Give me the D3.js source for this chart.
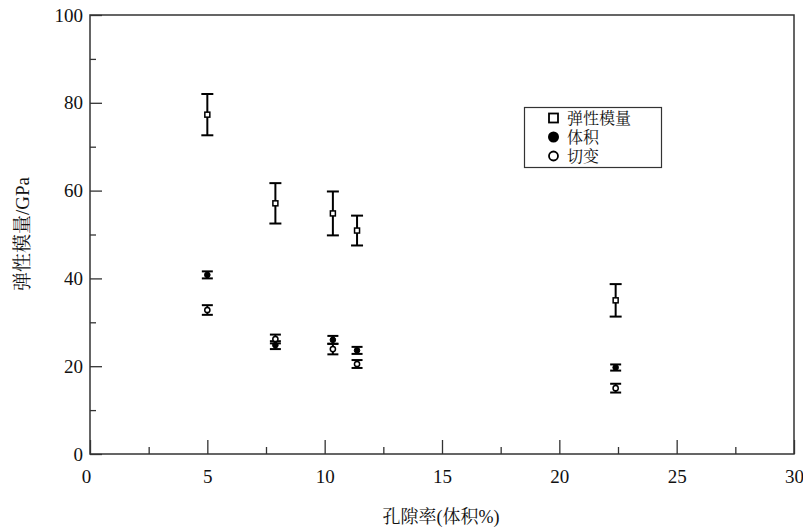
<!DOCTYPE html>
<html><head><meta charset="utf-8">
<script src="https://cdn.jsdelivr.net/npm/d3@7"></script>
<style>body{margin:0;background:#fff;} svg{display:block;}
.serif{font-family:"Liberation Serif","Times New Roman","DejaVu Serif",serif;}
.cjk{font-family:"Liberation Serif","Times New Roman","Noto Serif CJK SC","Noto Sans CJK SC",serif;}
</style>
</head><body>
<script>
const porosity = [5.0, 7.9, 10.35, 11.38, 22.4];
const modulus = [77.3, 57.1, 54.8, 50.9, 35.0];
const modulusErr = [4.7, 4.6, 5.0, 3.4, 3.7];
const bulk = [40.8, 24.8, 26.0, 23.6, 19.7];
const bulkErr = [0.8, 0.9, 0.9, 0.8, 0.7];
const shear = [32.8, 26.2, 23.9, 20.5, 15.0];
const shearErr = [1.1, 1.0, 1.2, 0.9, 1.0];
const xTicks = [0, 5, 10, 15, 20, 25, 30];
const yTicks = [0, 20, 40, 60, 80, 100];
const legendLabels = ["弹性模量", "体积", "切变"];

const W = 803, H = 528;
const m = {l: 90, r: 9, t: 15, b: 74};
const svg = d3.select("body").append("svg").attr("width", W).attr("height", H);
const x = d3.scaleLinear().domain([0, 30]).range([m.l, W - m.r]);
const y = d3.scaleLinear().domain([0, 100]).range([H - m.b, m.t]);
const axisColor = "#333";

// frame
svg.append("rect").attr("x", x(0)).attr("y", y(100)).attr("width", x(30) - x(0)).attr("height", y(0) - y(100))
  .attr("fill", "none").attr("stroke", axisColor).attr("stroke-width", 1.5);

// x axis
const xa = svg.append("g").attr("transform", `translate(0,${y(0)})`)
  .call(d3.axisBottom(x).tickValues(xTicks).tickSize(-14).tickPadding(22).tickFormat(d3.format("d")));
const xm = svg.append("g").attr("transform", `translate(0,${y(0)})`)
  .call(d3.axisBottom(x).tickValues(d3.range(2.5, 30, 5)).tickSize(-7).tickFormat(""));
// y axis
const ya = svg.append("g").attr("transform", `translate(${x(0)},0)`)
  .call(d3.axisLeft(y).tickValues(yTicks).tickSize(-12).tickPadding(7).tickFormat(d3.format("d")));
const ym = svg.append("g").attr("transform", `translate(${x(0)},0)`)
  .call(d3.axisLeft(y).tickValues(d3.range(10, 100, 20)).tickSize(-6).tickFormat(""));
[xa, xm, ya, ym].forEach(g => {
  g.attr("font-family", null).attr("font-size", null).attr("class", "serif");
  g.select(".domain").remove();
  g.selectAll("line").attr("stroke", axisColor).attr("stroke-width", 1.3);
  g.selectAll("text").attr("class", "serif").style("font-size", "19px").attr("fill", "#111");
});
xa.selectAll("text").attr("dy", "0.35em");
xa.selectAll("text").filter(d => d === 0).attr("dx", -4);

// axis titles
svg.append("text").attr("class", "cjk").attr("x", 441).attr("y", 523).attr("text-anchor", "middle")
  .style("font-size", "18px").attr("fill", "#111").text("孔隙率(体积%)");
svg.append("text").attr("class", "cjk").attr("transform", `translate(29,234) rotate(-90)`).attr("text-anchor", "middle")
  .style("font-size", "19px").attr("fill", "#111").text("弹性模量/GPa");

// series
function errorBars(vals, errs, cap) {
  const g = svg.append("g").attr("stroke", "#000").attr("stroke-width", 2);
  porosity.forEach((p, i) => {
    const cx = x(p), y1 = y(vals[i] + errs[i]), y2 = y(vals[i] - errs[i]);
    g.append("line").attr("x1", cx).attr("x2", cx).attr("y1", y1).attr("y2", y2);
    g.append("line").attr("x1", cx - cap).attr("x2", cx + cap).attr("y1", y1).attr("y2", y1);
    g.append("line").attr("x1", cx - cap).attr("x2", cx + cap).attr("y1", y2).attr("y2", y2);
  });
}
errorBars(modulus, modulusErr, 6);
errorBars(bulk, bulkErr, 5.5);
errorBars(shear, shearErr, 5.5);

svg.append("g").selectAll("rect").data(porosity).join("rect")
  .attr("x", (d) => x(d) - 2.5).attr("y", (d, i) => y(modulus[i]) - 2.5).attr("width", 5).attr("height", 5)
  .attr("fill", "#fff").attr("stroke", "#000").attr("stroke-width", 1.5);
svg.append("g").selectAll("circle").data(porosity).join("circle")
  .attr("cx", d => x(d)).attr("cy", (d, i) => y(bulk[i])).attr("r", 2.8)
  .attr("fill", "#000").attr("stroke", "#000").attr("stroke-width", 1);
svg.append("g").selectAll("circle").data(porosity).join("circle")
  .attr("cx", d => x(d)).attr("cy", (d, i) => y(shear[i])).attr("r", 2.6)
  .attr("fill", "#fff").attr("stroke", "#000").attr("stroke-width", 1.5);

// legend
const lg = svg.append("g");
lg.append("rect").attr("x", 524.5).attr("y", 107.5).attr("width", 137).attr("height", 60)
  .attr("fill", "#fff").attr("stroke", "#333").attr("stroke-width", 1.2);
const rows = [118, 137, 156];
lg.append("rect").attr("x", 549).attr("y", rows[0] - 4.5).attr("width", 9).attr("height", 9)
  .attr("fill", "#fff").attr("stroke", "#000").attr("stroke-width", 1.8);
lg.append("circle").attr("cx", 553.5).attr("cy", rows[1]).attr("r", 5.5).attr("fill", "#000");
lg.append("circle").attr("cx", 553.5).attr("cy", rows[2]).attr("r", 4.5).attr("fill", "#fff")
  .attr("stroke", "#000").attr("stroke-width", 1.8);
legendLabels.forEach((t, i) => {
  lg.append("text").attr("class", "cjk").attr("x", 567).attr("y", rows[i]).attr("dy", "0.36em")
    .style("font-size", "16px").attr("fill", "#111").text(t);
});
</script>
</body></html>
